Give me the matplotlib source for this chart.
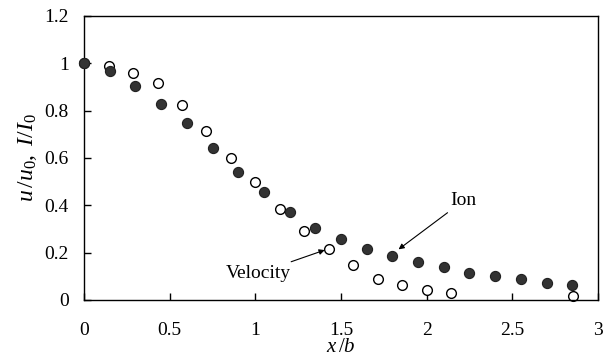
import matplotlib.pyplot as plt

plt.rcParams['font.family'] = ['Liberation Serif', 'DejaVu Serif']
plt.rcParams['mathtext.fontset'] = 'custom'
plt.rcParams['mathtext.it'] = 'Liberation Serif:italic'
plt.rcParams['mathtext.rm'] = 'Liberation Serif'

# velocidad (círculos abiertos)
x_vel = [0, 0.143, 0.286, 0.429, 0.571, 0.714, 0.857, 1.0, 1.143, 1.286,
         1.429, 1.571, 1.714, 1.857, 2.0, 2.143, 2.857]
y_vel = [1.0, 0.99, 0.958, 0.915, 0.822, 0.715, 0.599, 0.497, 0.384, 0.292,
         0.214, 0.149, 0.090, 0.065, 0.044, 0.030, 0.017]

# iones (círculos rellenos)
x_ion = [0, 0.15, 0.30, 0.45, 0.60, 0.75, 0.90, 1.05, 1.20, 1.35, 1.50,
         1.65, 1.80, 1.95, 2.10, 2.25, 2.40, 2.55, 2.70, 2.85]
y_ion = [1.0, 0.968, 0.903, 0.830, 0.746, 0.642, 0.542, 0.455, 0.372, 0.304,
         0.259, 0.217, 0.185, 0.162, 0.139, 0.114, 0.101, 0.087, 0.071, 0.065]

x_ticks = [0, 0.5, 1, 1.5, 2, 2.5, 3]
x_tick_labels = ['0', '0.5', '1', '1.5', '2', '2.5', '3']
y_ticks = [0, 0.2, 0.4, 0.6, 0.8, 1.0, 1.2]
y_tick_labels = ['0', '0.2', '0.4', '0.6', '0.8', '1', '1.2']

fig = plt.figure(figsize=(6.05, 3.64), dpi=100)
ax = fig.add_axes([84 / 605, 1 - 300 / 364, 514 / 605, 284 / 364])

ax.plot(x_vel, y_vel, 'o', ms=7.0, mfc='white', mec='black', mew=1.0,
        clip_on=False, zorder=2)
ax.plot(x_ion, y_ion, 'o', ms=7.3, mfc='#333333', mec='#222222', mew=0.8,
        clip_on=False, zorder=4)

ax.set_xlim(0, 3)
ax.set_ylim(0, 1.2)
ax.set_xticks(x_ticks)
ax.set_xticklabels(x_tick_labels)
ax.set_yticks(y_ticks)
ax.set_yticklabels(y_tick_labels)
ax.tick_params(direction='in', length=5, width=1, labelsize=14,
               top=False, right=False)
ax.tick_params(axis='x', pad=16)
ax.tick_params(axis='y', pad=11)
for s in ax.spines.values():
    s.set_linewidth(1.0)

ax.set_xlabel(r'$x\,/b$', fontsize=15, labelpad=-1)
ax.set_ylabel(r'$u\,/u_0,\ I/I_0$', fontsize=17, labelpad=4)

ax.annotate('Velocity', xy=(1.405, 0.211), xytext=(1.21, 0.114),
            ha='right', va='center', fontsize=14,
            arrowprops=dict(arrowstyle='-|>', color='black', lw=0.8,
                            mutation_scale=8, shrinkA=0, shrinkB=0))
ax.annotate('Ion', xy=(1.836, 0.214), xytext=(2.14, 0.42),
            ha='left', va='center', fontsize=14,
            arrowprops=dict(arrowstyle='-|>', color='black', lw=0.8,
                            mutation_scale=8, shrinkA=1, shrinkB=0))

fig.savefig('out.png', dpi=100)
